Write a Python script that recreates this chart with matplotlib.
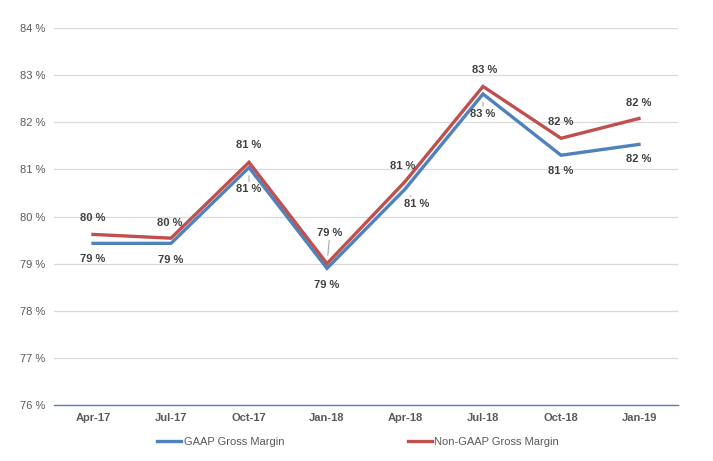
import matplotlib
matplotlib.use("Agg")
import matplotlib.pyplot as plt

categories = ["Apr-17", "Jul-17", "Oct-17", "Jan-18", "Apr-18", "Jul-18", "Oct-18", "Jan-19"]
gaap = [79.43, 79.43, 81.04, 78.90, 80.58, 82.60, 81.30, 81.53]
non_gaap = [79.62, 79.54, 81.15, 79.00, 80.74, 82.76, 81.66, 82.08]
yticks = [76, 77, 78, 79, 80, 81, 82, 83, 84]

# label offsets in pixels (dx, dy) and whether a leader line is drawn
gaap_off = [(0, -16, False), (0, -17, False), (0, -22, True), (0, -17, False),
            (12, -15, True), (0, -20, True), (0, -16, False), (0, -15, False)]
non_off = [(0, 16, False), (-1, 15, False), (0, 17, False), (3, 31, True),
           (-2, 16, False), (2, 16, False), (0, 16, False), (0, 15, False)]

plt.rcParams['font.family'] = ['Liberation Sans', 'DejaVu Sans']

fig = plt.figure(figsize=(7.13, 4.61), dpi=100)
ax = fig.add_axes([54/713, 1-405/461, 624/713, 377/461])

blue = '#4F81BD'
red = '#C0504D'
x = list(range(len(categories)))
ax.plot(x, gaap, color=blue, lw=2.4, label='GAAP Gross Margin', solid_joinstyle='miter', zorder=3)
ax.plot(x, non_gaap, color=red, lw=2.4, label='Non-GAAP Gross Margin', solid_joinstyle='miter', zorder=3)

for xi, v, (dx, dy, lead) in zip(x, gaap, gaap_off):
    ax.annotate(f"{round(v)} %", (xi, v), xytext=(dx, dy), textcoords='offset pixels',
                ha='center', va='center', fontsize=8, fontweight='bold', color='#404040',
                arrowprops=dict(arrowstyle='-', color='#A6A6A6', lw=0.8, shrinkA=0, shrinkB=6) if lead else None,
                zorder=4)
for xi, v, (dx, dy, lead) in zip(x, non_gaap, non_off):
    ax.annotate(f"{round(v)} %", (xi, v), xytext=(dx, dy), textcoords='offset pixels',
                ha='center', va='center', fontsize=8, fontweight='bold', color='#404040',
                arrowprops=dict(arrowstyle='-', color='#A6A6A6', lw=0.8, shrinkA=0, shrinkB=6) if lead else None,
                zorder=4)

ax.set_xlim(-0.5, len(categories) - 0.5)
ax.set_ylim(76, 84)
ax.set_yticks(yticks)
ax.set_yticklabels([f"{t} %" for t in yticks])
ax.set_xticks(x)
ax.set_xticklabels(categories, fontweight='bold')
ax.tick_params(axis='both', length=0, labelsize=8, colors='#595959')
ax.tick_params(axis='y', pad=6)
ax.tick_params(axis='x', pad=6)
ax.grid(axis='y', color='#D9D9D9', lw=0.9)
ax.set_axisbelow(True)
for s in ['top', 'right', 'left']:
    ax.spines[s].set_visible(False)
ax.spines['bottom'].set_color('#5A7DB8')
ax.spines['bottom'].set_linewidth(1.0)

leg = fig.legend(loc='center', bbox_to_anchor=(358/713, 1-441.5/461), ncol=2, frameon=False,
                 fontsize=8, handlelength=2.2, handletextpad=0.2, columnspacing=11.1)
for t in leg.get_texts():
    t.set_color('#595959')

fig.savefig('out.png', dpi=100)
